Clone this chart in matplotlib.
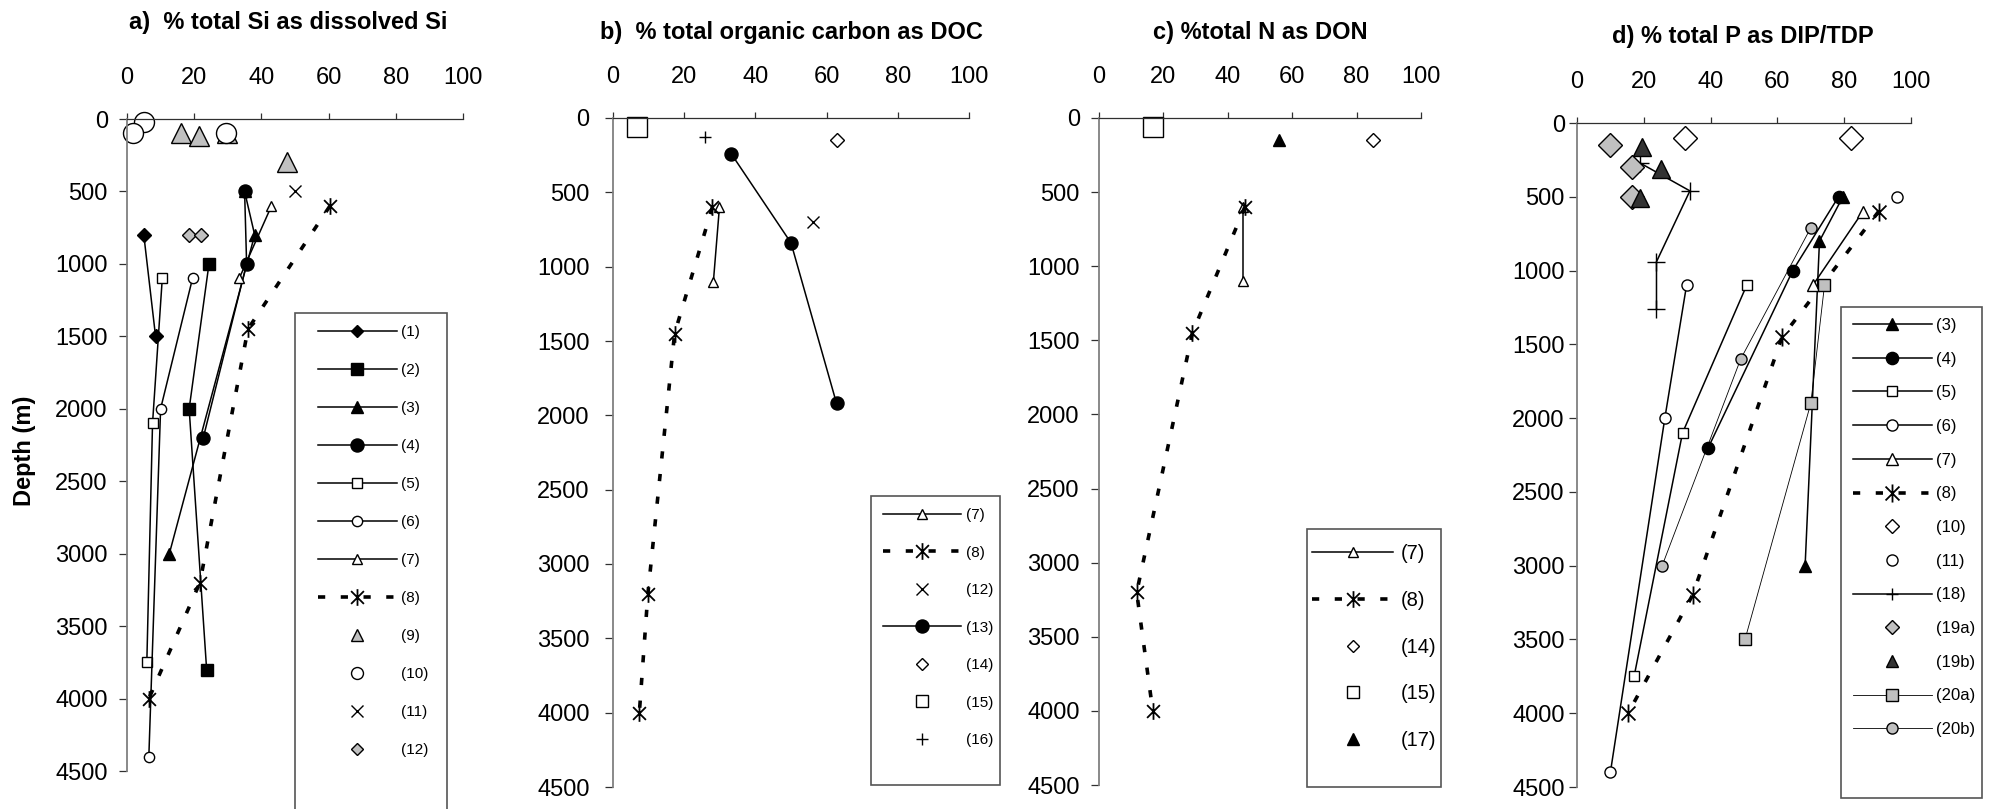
import matplotlib
matplotlib.use("Agg")
import matplotlib.pyplot as plt
from matplotlib.path import Path
from matplotlib.patches import Rectangle

plt.rcParams['font.family'] = ['Liberation Sans', 'DejaVu Sans']

# ---- data: x = percent, d = depth (m) ----
# panel a: % total Si as dissolved Si
a1_x = [5, 8.5];                a1_d = [800, 1500]
a2_x = [24.4, 18.5, 23.7];      a2_d = [1000, 2000, 3800]
a3_x = [35, 38, 12.6];          a3_d = [500, 800, 3000]
a4_x = [35, 35.6, 22.7];        a4_d = [500, 1000, 2200]
a5_x = [10.5, 7.6, 5.9];        a5_d = [1100, 2100, 3750]
a6_x = [19.5, 10, 6.5];         a6_d = [1100, 2000, 4400]
a7_x = [43, 33.4];              a7_d = [600, 1100]
a8_x = [60.4, 36, 21.7, 6.5];   a8_d = [600, 1450, 3200, 4000]
a9_x = [16, 21.5, 29.7, 47.5];  a9_d = [100, 120, 100, 300]
a10_x = [5, 1.7, 29.5];         a10_d = [20, 100, 100]
a11_x = [50];                   a11_d = [500]
a12_x = [18.5, 22];             a12_d = [800, 800]

# panel b: % total organic carbon as DOC
b7_x = [29.9, 28.2];            b7_d = [600, 1100]
b8_x = [27.9, 17.3, 9.8, 7.4];  b8_d = [600, 1450, 3200, 4000]
b12_x = [56.1];                 b12_d = [700]
b13_x = [33.2, 50, 62.8];       b13_d = [240, 840, 1920]
b14_x = [62.8];                 b14_d = [150]
b15_x = [6.8];                  b15_d = [60]
b16_x = [25.9];                 b16_d = [130]

# panel c: % total N as DON
c7_x = [44.8, 44.8];            c7_d = [600, 1100]
c8_x = [45.3, 29, 11.7, 16.7];  c8_d = [600, 1450, 3200, 4000]
c14_x = [85.2];                 c14_d = [150]
c15_x = [16.8];                 c15_d = [60]
c17_x = [56];                   c17_d = [150]

# panel d: % total P as DIP/TDP
d3_x = [79.6, 72.6, 68.3];      d3_d = [500, 800, 3000]
d4_x = [78.3, 64.6, 39.3];      d4_d = [500, 1000, 2200]
d5_x = [50.8, 31.6, 17.1];      d5_d = [1100, 2100, 3750]
d6_x = [32.8, 26.3, 10];        d6_d = [1100, 2000, 4400]
d7_x = [85.6, 70.6];            d7_d = [600, 1100]
d8_x = [90.3, 61.4, 34.6, 15.3]; d8_d = [600, 1450, 3200, 4000]
d10_x = [32.2, 82];             d10_d = [100, 100]
d11_x = [95.8];                 d11_d = [500]
d18_x = [18.8, 33.8, 23.8, 23.8]; d18_d = [270, 460, 940, 1260]
d19a_x = [10, 16.6, 16.6];      d19a_d = [150, 300, 500]
d19b_x = [19.6, 25, 19];        d19b_d = [160, 310, 510]
d20a_x = [74.1, 70, 50.3];      d20a_d = [1100, 1900, 3500]
d20b_x = [70, 49, 25.5];        d20b_d = [710, 1600, 3000]

titles = ['a)  % total Si as dissolved Si', 'b)  % total organic carbon as DOC',
          'c) %total N as DON', 'd) % total P as DIP/TDP']

W, H = 1992, 809
fig = plt.figure(figsize=(W / 100, H / 100), dpi=100)


def fx(px):
    return px / W


def fy(py):
    return 1 - py / H


def make_ax(x0, x1, y0, y1, ypad):
    ax = fig.add_axes([fx(x0), fy(y1), fx(x1) - fx(x0), fy(y0) - fy(y1)])
    ax.set_xlim(0, 100)
    ax.set_ylim(4500, 0)
    ax.set_xticks(range(0, 101, 20))
    ax.set_yticks(range(0, 4501, 500))
    ax.xaxis.tick_top()
    ax.spines['right'].set_visible(False)
    ax.spines['bottom'].set_visible(False)
    ax.spines['left'].set_color('#808080')
    ax.spines['left'].set_linewidth(1.3)
    ax.spines['top'].set_color('#303030')
    ax.spines['top'].set_linewidth(0.9)
    ax.tick_params(axis='x', direction='out', length=4.3, width=0.9, color='#303030', pad=17, labelsize=17)
    ax.tick_params(axis='y', direction='out', length=5.8, width=0.9, color='#303030', pad=ypad, labelsize=17)
    ax.patch.set_visible(False)
    return ax


# asterisk marker: X plus vertical bar
AST = Path([(-1, -1), (1, 1), (-1, 1), (1, -1), (0, -1.3), (0, 1.3)],
           [Path.MOVETO, Path.LINETO] * 3)
DASH = (0, (2, 4.3))
GRAY = '#c0c0c0'
DARK = '#333333'


def pp(ax, x, d, label, marker, ms, mfc='k', ls='-', lw=1.1, mew=1.0):
    line, = ax.plot(x, d, ls=ls, color='k', lw=lw, marker=marker, ms=ms, mfc=mfc,
                    mec='k', mew=mew, label=label, clip_on=False)
    return line


def dashed8(ax, x, d, ms=12):
    return pp(ax, x, d, '(8)', AST, ms, mfc='none', ls=DASH, lw=2.6, mew=1.3)


def add_legend(ax, handles, fs, hl, htp, lsp, x_left, y_top, box, small=None):
    leg = ax.legend(handles=handles, loc='upper left', bbox_to_anchor=(fx(x_left), fy(y_top)),
                    bbox_transform=fig.transFigure, frameon=False, borderpad=0, borderaxespad=0,
                    fontsize=fs, handlelength=hl, handletextpad=htp, labelspacing=lsp)
    small = small or {}
    for h, t in zip(leg.legend_handles, leg.get_texts()):
        if t.get_text() in small:
            h.set_markersize(small[t.get_text()])
    bx0, by0, bx1, by1 = box
    fig.add_artist(Rectangle((fx(bx0), fy(by1)), fx(bx1) - fx(bx0), fy(by0) - fy(by1),
                             transform=fig.transFigure, fill=False, ec='#555555', lw=1.2))


# ---- panel a ----
ax = make_ax(127, 463, 119, 771, 8)
h = []
h.append(pp(ax, a1_x, a1_d, '(1)', 'D', 7))
h.append(pp(ax, a2_x, a2_d, '(2)', 's', 8.6))
h.append(pp(ax, a3_x, a3_d, '(3)', '^', 9))
h.append(pp(ax, a4_x, a4_d, '(4)', 'o', 9.4))
h.append(pp(ax, a5_x, a5_d, '(5)', 's', 6.8, mfc='white'))
h.append(pp(ax, a6_x, a6_d, '(6)', 'o', 7.4, mfc='white'))
h.append(pp(ax, a7_x, a7_d, '(7)', '^', 7.6, mfc='white'))
h.append(dashed8(ax, a8_x, a8_d))
h.append(pp(ax, a9_x, a9_d, '(9)', '^', 14.4, mfc=GRAY, ls='none'))
h.append(pp(ax, a10_x, a10_d, '(10)', 'o', 14.4, mfc='white', ls='none'))
h.append(pp(ax, a11_x, a11_d, '(11)', 'x', 8, ls='none'))
h.append(pp(ax, a12_x, a12_d, '(12)', 'D', 7.4, mfc=GRAY, ls='none'))
add_legend(ax, h, 11, 5.16, 0.26, 1.57, 318, 325, (295, 313, 447, 840),
           small={'(1)': 6, '(12)': 6, '(9)': 8.6, '(10)': 8.6})

# ---- panel b ----
ax = make_ax(613, 969, 118, 787, 11)
h = []
h.append(pp(ax, b7_x, b7_d, '(7)', '^', 7.6, mfc='white'))
h.append(dashed8(ax, b8_x, b8_d))
h.append(pp(ax, b12_x, b12_d, '(12)', 'x', 8.5, ls='none'))
h.append(pp(ax, b13_x, b13_d, '(13)', 'o', 9.4))
h.append(pp(ax, b14_x, b14_d, '(14)', 'D', 6.8, mfc='white', ls='none'))
h.append(pp(ax, b15_x, b15_d, '(15)', 's', 14.4, mfc='white', ls='none'))
h.append(pp(ax, b16_x, b16_d, '(16)', '+', 8.5, ls='none'))
add_legend(ax, h, 11, 5.1, 0.33, 1.54, 883, 508, (871, 496, 1000, 785),
           small={'(14)': 6, '(15)': 8.6})

# ---- panel c ----
ax = make_ax(1099, 1421, 118, 785, 8)
h = []
h.append(pp(ax, c7_x, c7_d, '(7)', '^', 7.6, mfc='white'))
h.append(dashed8(ax, c8_x, c8_d))
h.append(pp(ax, c14_x, c14_d, '(14)', 'D', 6.8, mfc='white', ls='none'))
h.append(pp(ax, c15_x, c15_d, '(15)', 's', 14.4, mfc='white', ls='none'))
h.append(pp(ax, c17_x, c17_d, '(17)', '^', 9, ls='none'))
add_legend(ax, h, 14.5, 4.04, 0.35, 1.38, 1312, 544, (1307, 529, 1441, 787),
           small={'(14)': 6, '(15)': 8.6})

# ---- panel d ----
ax = make_ax(1577, 1911, 123, 787, 3)
h = []
h.append(pp(ax, d3_x, d3_d, '(3)', '^', 8.6))
h.append(pp(ax, d4_x, d4_d, '(4)', 'o', 8.8))
h.append(pp(ax, d5_x, d5_d, '(5)', 's', 7.6, mfc='white'))
h.append(pp(ax, d6_x, d6_d, '(6)', 'o', 8, mfc='white'))
h.append(pp(ax, d7_x, d7_d, '(7)', '^', 8.4, mfc='white'))
h.append(dashed8(ax, d8_x, d8_d, ms=13))
h.append(pp(ax, d10_x, d10_d, '(10)', 'D', 12, mfc='white', ls='none'))
h.append(pp(ax, d11_x, d11_d, '(11)', 'o', 8, mfc='white', ls='none'))
h.append(pp(ax, d18_x, d18_d, '(18)', '+', 13))
h.append(pp(ax, d19a_x, d19a_d, '(19a)', 'D', 12, mfc=GRAY, ls='none'))
h.append(pp(ax, d19b_x, d19b_d, '(19b)', '^', 13.5, mfc=DARK, ls='none'))
h.append(pp(ax, d20a_x, d20a_d, '(20a)', 's', 8, mfc=GRAY, lw=0.6))
h.append(pp(ax, d20b_x, d20b_d, '(20b)', 'o', 8, mfc=GRAY, lw=0.6))
add_legend(ax, h, 12, 4.73, 0.26, 1.12, 1853, 318, (1841, 307, 1982, 798),
           small={'(10)': 7, '(19a)': 7, '(19b)': 8.6, '(18)': 9})

# ---- titles and y label ----
for (cx, cy), t in zip([(288, 23), (791, 33), (1260, 33), (1743, 37)], titles):
    fig.text(fx(cx), fy(cy), t, ha='center', va='center', fontsize=17, fontweight='bold')
fig.text(fx(25), fy(451), 'Depth (m)', rotation=90, ha='center', va='center',
         fontsize=17, fontweight='bold')

fig.savefig('out.png', dpi=100)
